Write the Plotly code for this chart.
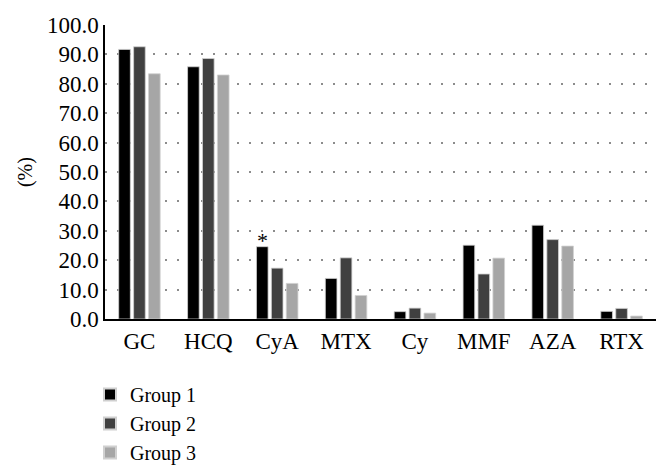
import plotly.graph_objects as go

categories = ["GC", "HCQ", "CyA", "MTX", "Cy", "MMF", "AZA", "RTX"]
group1 = [91.7, 85.8, 24.6, 13.8, 2.5, 25.1, 31.9, 2.6]
group2 = [92.6, 88.6, 17.3, 20.8, 3.7, 15.3, 27.0, 3.6]
group3 = [83.4, 83.0, 12.1, 8.0, 2.0, 20.7, 24.8, 1.0]
series_names = ["Group 1", "Group 2", "Group 3"]
colors = ["#000000", "#404040", "#a6a6a6"]
y_ticks = [0, 10, 20, 30, 40, 50, 60, 70, 80, 90, 100]

FONT = "Liberation Serif"

fig = go.Figure()
for name, vals, col in zip(series_names, [group1, group2, group3], colors):
    fig.add_trace(go.Bar(
        x=categories, y=vals, name=name,
        marker=dict(color=col, line=dict(color="#d0d0d0", width=0.8)),
    ))

fig.add_annotation(
    x="CyA", y=group1[2], text="*", showarrow=False,
    xshift=-15, yanchor="bottom", yshift=-8,
    font=dict(family=FONT, size=22, color="#000"),
)
fig.add_annotation(
    xref="paper", yref="paper", x=-0.145, y=0.5, text="(%)",
    textangle=-90, showarrow=False, xanchor="center", yanchor="middle",
    font=dict(family=FONT, size=20, color="#000"),
)

fig.update_layout(
    width=670, height=475,
    margin=dict(l=97, r=22, t=17, b=164, autoexpand=False),
    paper_bgcolor="white", plot_bgcolor="white",
    barmode="group", bargap=0.35, bargroupgap=0.22,
    font=dict(family=FONT, size=23, color="#000"),
    showlegend=True,
    legend=dict(
        orientation="v", xref="container", yref="container",
        x=82 / 670, xanchor="left", y=1 - 367 / 475, yanchor="top",
        font=dict(family=FONT, size=20, color="#000"),
        tracegroupgap=0, itemsizing="constant",
    ),
)

fig.update_xaxes(
    showline=True, linecolor="#000", linewidth=2,
    showgrid=False, ticks="", tickfont=dict(family=FONT, size=23),
)
fig.update_yaxes(
    range=[0, 100], tickvals=y_ticks, tickformat=".1f",
    showline=True, linecolor="#000", linewidth=1.5,
    showgrid=True, gridcolor="#8c8c8c", gridwidth=1.5, griddash="2px,10px",
    zeroline=False, ticks="", ticklen=0,
    tickfont=dict(family=FONT, size=23),
)

fig.write_html("out.html")
